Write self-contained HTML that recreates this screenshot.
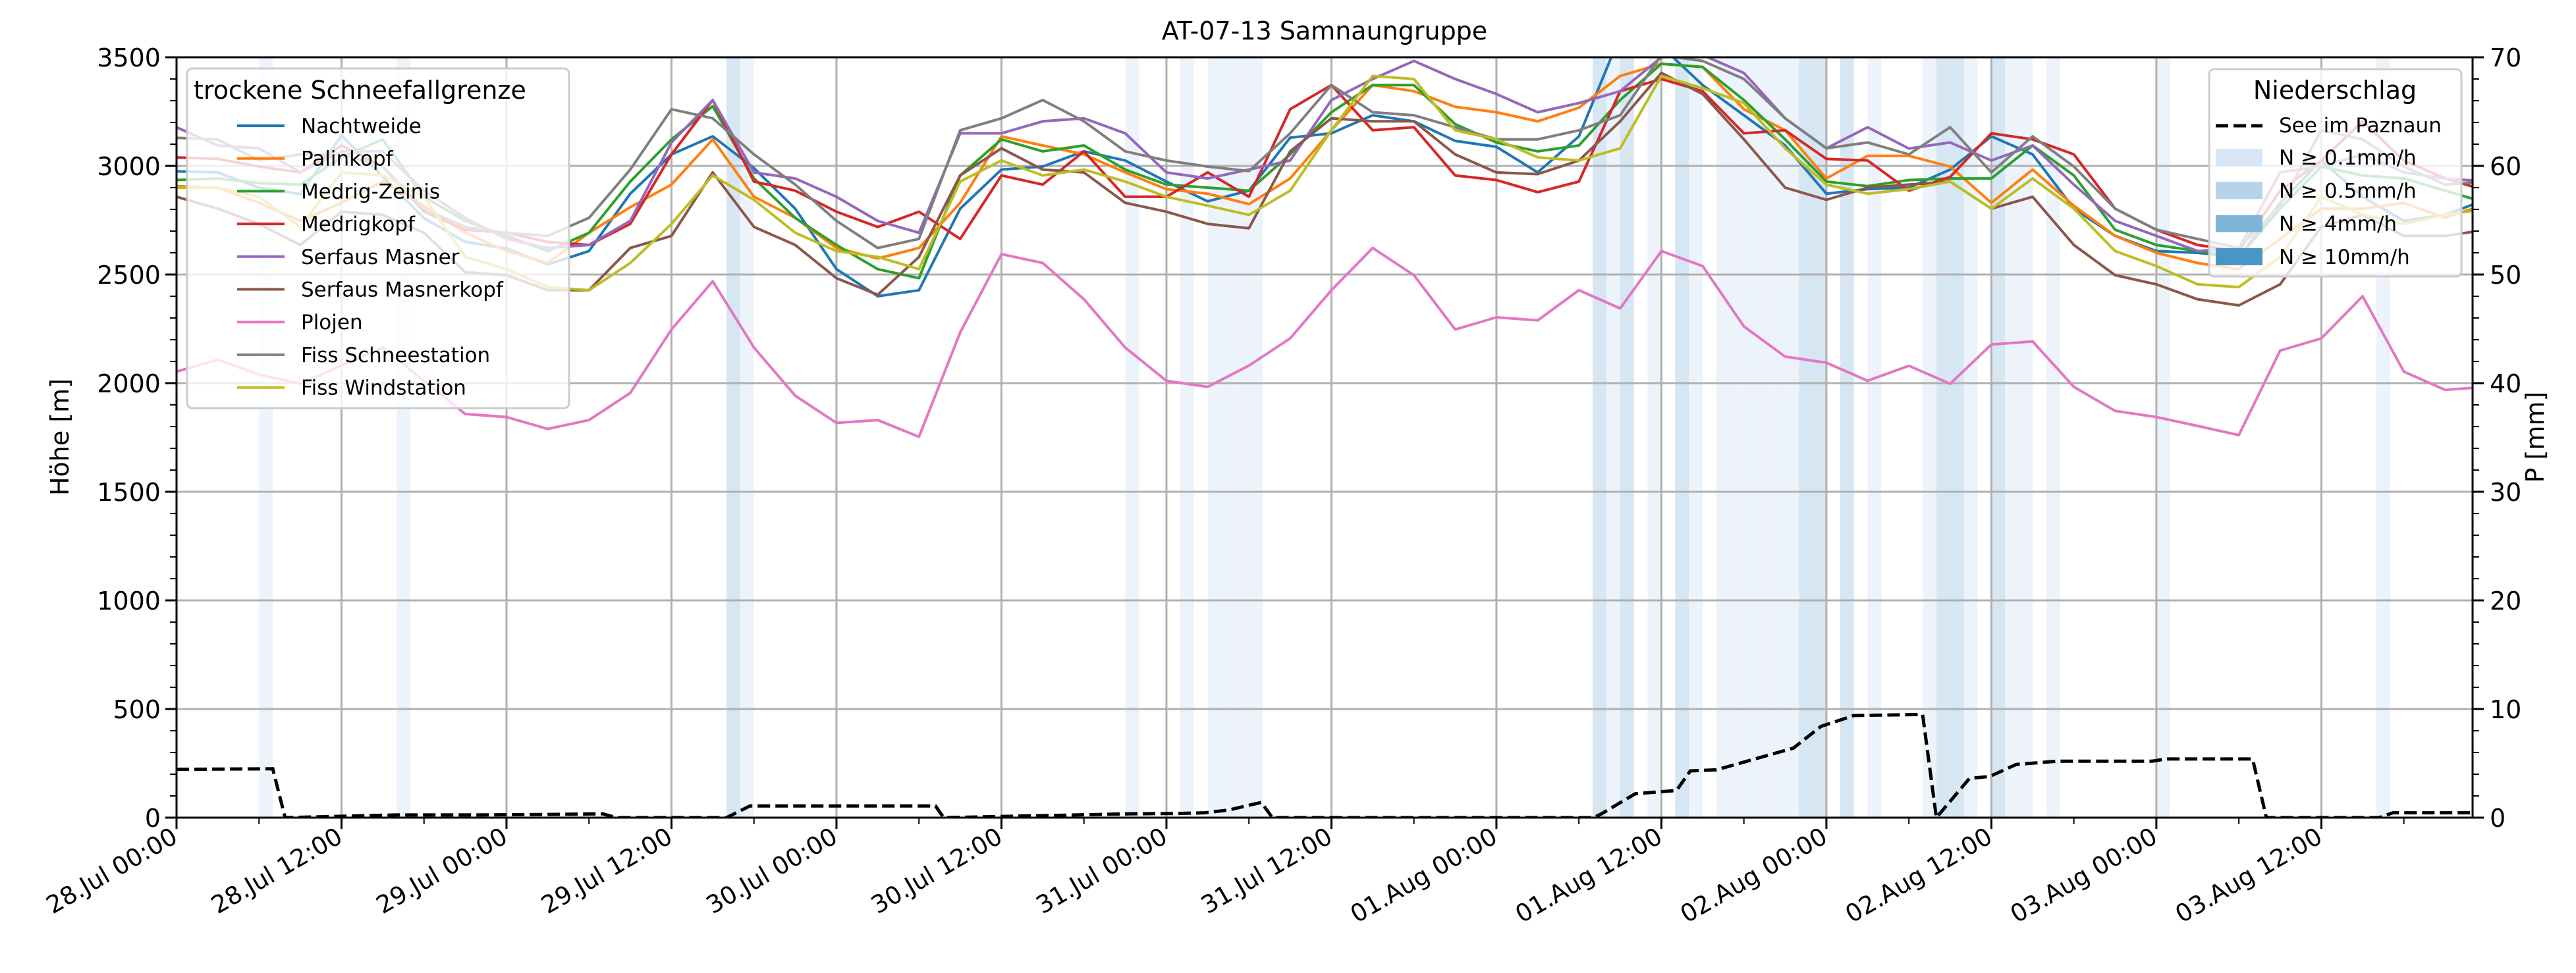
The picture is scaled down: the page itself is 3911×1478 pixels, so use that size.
<!DOCTYPE html>
<html><head><meta charset="utf-8">
<style>
html,body{margin:0;padding:0;background:#fff;}
svg{display:block;font-family:"DejaVu Sans","Liberation Sans",sans-serif;}
</style></head>
<body>
<svg id="chart" width="3911" height="1478" viewBox="0 0 3911 1478" xmlns="http://www.w3.org/2000/svg">
<rect x="0" y="0" width="3911" height="1478" fill="#fff"/>
<defs><clipPath id="plotclip"><rect x="268" y="87" width="3486" height="1155"/></clipPath></defs>
<g id="bands" clip-path="url(#plotclip)"></g>
<g id="grid"></g>
<g id="series" clip-path="url(#plotclip)"></g>
<g id="axes"></g>
<text x="2011" y="60" font-size="38" text-anchor="middle">AT-07-13 Samnaungruppe</text>
<text transform="translate(104,664) rotate(-90)" font-size="38" text-anchor="middle">Höhe [m]</text>
<text transform="translate(3862,664) rotate(-90)" font-size="38" text-anchor="middle">P [mm]</text>
<g id="legends"></g>
</svg>
<script>
// ---- data ----
const hours = [0,3,6,9,12,15,18,21,24,27,30,33,36,39,42,45,48,51,54,57,60,63,66,69,72,75,78,81,84,87,90,93,96,99,102,105,108,111,114,117,120,123,126,129,132,135,138,141,144,147,150,153,156,159,162,165,168];
const seriesNames = ["Nachtweide","Palinkopf","Medrig-Zeinis","Medrigkopf","Serfaus Masner","Serfaus Masnerkopf","Plojen","Fiss Schneestation","Fiss Windstation"];
const nachtweide = [2975,2970,2900,2870,3140,2950,2760,2650,2620,2546,2608,2872,3053,3136,2990,2803,2525,2400,2428,2803,2983,2997,3067,3025,2928,2837,2886,3130,3150,3233,3205,3115,3088,2970,3136,3600,3550,3372,3233,3094,2872,2893,2900,2983,3136,3053,2803,2678,2608,2600,2580,2830,3025,2858,2747,2775,2845];
const palinkopf = [2907,2900,2830,2747,2830,2928,2817,2692,2608,2553,2692,2810,2914,3122,2858,2761,2622,2574,2622,2830,3136,3094,3053,2970,2893,2872,2824,2942,3164,3372,3344,3272,3247,3205,3268,3414,3470,3455,3261,3164,2942,3046,3046,2997,2830,2983,2817,2678,2600,2553,2525,2664,2803,2803,2830,2761,2824];
const medrigZeinis = [2935,2942,2921,2914,3039,3122,2858,2747,2678,2608,2692,2928,3122,3275,2942,2761,2636,2525,2483,2956,3122,3067,3094,2983,2914,2900,2886,3053,3247,3372,3372,3192,3108,3067,3094,3303,3470,3455,3303,3122,2928,2907,2935,2942,2942,3094,2956,2706,2636,2608,2580,2803,2997,2956,2942,2886,2830];
const medrigkopf = [3039,3032,2997,2970,3094,2997,2789,2706,2692,2650,2636,2733,3053,3303,2928,2886,2789,2719,2789,2664,2956,2914,3067,2858,2858,2970,2858,3261,3372,3164,3178,2956,2935,2879,2928,3344,3400,3344,3150,3164,3032,3025,2886,2949,3150,3122,3053,2803,2706,2636,2608,2886,3025,3205,3025,2942,2886];
const serfausMasner = [3178,3094,3081,2970,3067,3067,2886,2761,2664,2622,2636,2747,3108,3303,2970,2942,2858,2747,2692,3150,3150,3205,3219,3150,2970,2942,2983,3025,3303,3400,3483,3400,3331,3247,3289,3344,3500,3510,3428,3219,3081,3178,3080,3108,3025,3094,2914,2747,2678,2608,2620,2970,2997,3053,2970,2942,2928];
const serfausMasnerkopf = [2858,2803,2733,2636,2789,2775,2692,2511,2497,2428,2428,2622,2678,2970,2719,2636,2483,2407,2581,2956,3081,2983,2970,2830,2789,2733,2713,3067,3219,3205,3205,3053,2970,2962,3025,3205,3428,3331,3122,2900,2844,2900,2914,2928,2803,2858,2636,2497,2455,2386,2358,2455,2720,2775,2678,2678,2706];
const plojen = [2053,2108,2039,1997,2081,2164,2011,1858,1844,1789,1830,1955,2247,2469,2164,1942,1817,1830,1753,2233,2594,2553,2386,2164,2011,1983,2081,2206,2428,2622,2497,2247,2303,2289,2428,2344,2608,2539,2261,2122,2094,2011,2080,1997,2178,2192,1983,1872,1844,1803,1761,2150,2206,2400,2053,1969,1983];
const fissSchnee = [3129,3122,3025,3053,3053,2997,2803,2719,2692,2678,2761,2983,3261,3219,3053,2914,2747,2622,2664,3164,3219,3303,3205,3067,3025,2997,2976,3150,3372,3247,3233,3178,3122,3122,3164,3233,3510,3483,3400,3219,3081,3108,3053,3178,2970,3136,2997,2803,2706,2664,2622,2817,3164,3122,2997,2914,2928];
const fissWind = [2900,2900,2858,2719,2970,2956,2858,2581,2525,2442,2428,2553,2733,2956,2844,2692,2608,2581,2525,2928,3025,2956,2983,2928,2858,2817,2775,2886,3164,3414,3400,3164,3122,3039,3025,3081,3414,3358,3289,3081,2914,2872,2893,2928,2803,2942,2803,2608,2539,2455,2442,2581,2858,2775,2733,2775,2803];
const seriesValues = [nachtweide,palinkopf,medrigZeinis,medrigkopf,serfausMasner,serfausMasnerkopf,plojen,fissSchnee,fissWind];
const seriesColors = ["#1f77b4","#ff7f0e","#2ca02c","#d62728","#9467bd","#8c564b","#e377c2","#7f7f7f","#bcbd22"];
const precipHours = [0,7,7.9,16,22,28,31,32,40,41.7,55.2,55.8,69.4,72.8,74.8,76.5,78.9,79.7,103.1,103.7,106.1,109.1,110.1,112,117.6,119.6,122,127,128,130.4,131.9,133.8,136.8,143.7,144.7,151,152,160.2,161.2,167];
const precipMM = [4.45,4.5,0,0.25,0.25,0.3,0.35,0,0,1.07,1.07,0,0.35,0.38,0.45,0.7,1.4,0,0,0.4,2.2,2.5,4.3,4.4,6.4,8.4,9.4,9.5,0,3.6,3.8,4.9,5.2,5.2,5.4,5.4,0,0,0.45,0.45];
const bandStartHours = [6,16,40,41,69,73,75,76,77,78,103,104,105,107,109,110,112,113,114,115,116,117,118,119,121,123,127,128,129,130,132,133,134,136,144,160];
const bandLevels = [0,0,1,0,0,0,0,0,0,0,1,0,1,0,1,0,0,0,0,0,0,0,1,1,1,0,0,1,1,0,1,0,0,0,0,0];
const xTickLabels = ["28.Jul 00:00","28.Jul 12:00","29.Jul 00:00","29.Jul 12:00","30.Jul 00:00","30.Jul 12:00","31.Jul 00:00","31.Jul 12:00","01.Aug 00:00","01.Aug 12:00","02.Aug 00:00","02.Aug 12:00","03.Aug 00:00","03.Aug 12:00"];
const yTicksLeft = [0,500,1000,1500,2000,2500,3000,3500];
const yTicksRight = [0,10,20,30,40,50,60,70];

// ---- scales ----
const X0=268, X1=3754, Y0=1242, Y1=87, HMAX=167;
const xs = h => X0 + (X1-X0)*h/HMAX;
const ys = m => Y0 - (Y0-Y1)*m/3500;
const yp = mm => Y0 - (Y0-Y1)*mm/70;
const NS="http://www.w3.org/2000/svg";
function mk(tag, attrs, parent){const e=document.createElementNS(NS,tag);for(const k in attrs)e.setAttribute(k,attrs[k]);parent.appendChild(e);return e;}

// bands
const gB=document.getElementById('bands');
bandStartHours.forEach((h,i)=>{
  const r=mk('rect',{x:xs(h),y:Y1,width:xs(h+1)-xs(h),height:Y0-Y1,fill:bandLevels[i]?'#d7e6f3':'#edf3fa'},gB);
  
  
});

// grid
const gG=document.getElementById('grid');
for(let i=0;i<xTickLabels.length;i++){
  const l=mk('line',{x1:xs(i*12),x2:xs(i*12),y1:Y1,y2:Y0,stroke:'#b0b0b0','stroke-width':3},gG);
  
  
}
yTicksLeft.forEach(v=>{
  const l=mk('line',{x1:X0,x2:X1,y1:ys(v),y2:ys(v),stroke:'#b0b0b0','stroke-width':3},gG);
  
  
});

// series
const gS=document.getElementById('series');
seriesValues.forEach((vals,si)=>{
  const pts=vals.map((v,i)=>xs(hours[i]).toFixed(1)+','+ys(v).toFixed(1)).join(' ');
  const p=mk('polyline',{points:pts,fill:'none',stroke:seriesColors[si],'stroke-width':4,'stroke-linejoin':'round'},gS);
  
  
});
const ppts=precipHours.map((h,i)=>xs(h).toFixed(1)+','+yp(precipMM[i]).toFixed(1)).join(' ');
const pl=mk('polyline',{points:ppts,fill:'none',stroke:'#000','stroke-width':5,'stroke-dasharray':'19,8'},gS);



// axes
const gA=document.getElementById('axes');
mk('rect',{x:X0,y:Y1,width:X1-X0,height:Y0-Y1,fill:'none',stroke:'#000','stroke-width':3},gA);
for(let h=0;h<=HMAX;h+=6){
  const major=h%12===0;
  mk('line',{x1:xs(h),x2:xs(h),y1:Y0,y2:Y0+(major?17:10),stroke:'#000','stroke-width':major?3:2},gA);
}
xTickLabels.forEach((lab,i)=>{
  const t=mk('text',{transform:`translate(${xs(i*12)+4},${Y0+36}) rotate(-30)`,'font-size':37,'text-anchor':'end'},gA);
  t.textContent=lab;
  
  
});
for(let m=0;m<=3500;m+=100){
  const major=m%500===0;
  mk('line',{x1:X0-(major?17:10),x2:X0,y1:ys(m),y2:ys(m),stroke:'#000','stroke-width':major?3:2},gA);
}
yTicksLeft.forEach(v=>{
  const t=mk('text',{x:X0-24,y:ys(v)+14,'font-size':38,'text-anchor':'end'},gA);
  t.textContent=v;
  
  
});
for(let mm=0;mm<=70;mm+=2){
  const major=mm%10===0;
  mk('line',{x1:X1,x2:X1+(major?17:10),y1:yp(mm),y2:yp(mm),stroke:'#000','stroke-width':major?3:2},gA);
}
yTicksRight.forEach(v=>{
  const t=mk('text',{x:X1+26,y:yp(v)+14,'font-size':38,'text-anchor':'start'},gA);
  t.textContent=v;
  
  
});

// legends
const gL=document.getElementById('legends');
const lb=mk('rect',{x:284,y:104,width:580,height:516,rx:8,fill:'#fff','fill-opacity':0.8,stroke:'#cccccc','stroke-width':3},gL);


const lt=mk('text',{x:294,y:150,'font-size':38},gL); lt.textContent='trockene Schneefallgrenze';


seriesNames.forEach((n,i)=>{
  const y=191+i*49.7;
  mk('line',{x1:360,x2:432,y1:y,y2:y,stroke:seriesColors[i],'stroke-width':4},gL);
  const t=mk('text',{x:457,y:y+11,'font-size':31},gL); t.textContent=n;
  
  
});
const rb=mk('rect',{x:3354,y:105,width:383,height:315,rx:8,fill:'#fff','fill-opacity':0.8,stroke:'#cccccc','stroke-width':3},gL);


const rt=mk('text',{x:3545,y:150,'font-size':38,'text-anchor':'middle'},gL); rt.textContent='Niederschlag';


mk('line',{x1:3364,x2:3435,y1:191,y2:191,stroke:'#000','stroke-width':5,'stroke-dasharray':'19,8'},gL);
const st=mk('text',{x:3460,y:201,'font-size':31},gL); st.textContent='See im Paznaun';


const patchCols=['#d6e6f4','#b6d3ea','#7fb5d9','#4a95c8'];
const patchLabels=['N ≥ 0.1mm/h','N ≥ 0.5mm/h','N ≥ 4mm/h','N ≥ 10mm/h'];
patchLabels.forEach((lab,i)=>{
  const y=239+i*50.3;
  mk('rect',{x:3364,y:y-13,width:71,height:26,fill:patchCols[i]},gL);
  const t=mk('text',{x:3460,y:y+11,'font-size':31},gL); t.textContent=lab;
  
  
});
</script>
</body></html>
